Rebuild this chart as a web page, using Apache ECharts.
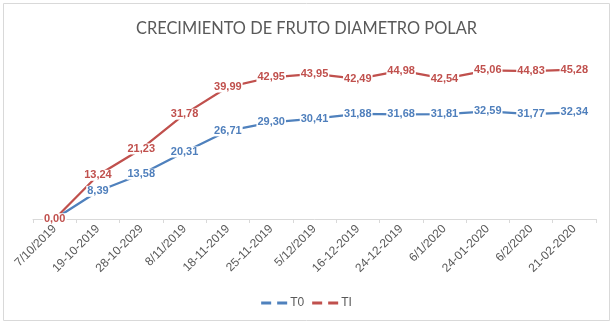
<!DOCTYPE html>
<html><head><meta charset="utf-8">
<script src="https://cdn.jsdelivr.net/npm/echarts@6/dist/echarts.min.js"></script>
<style>html,body{margin:0;padding:0;background:#fff}#c{width:613px;height:324px}</style>
</head><body><div id="c"></div>
<script>
const categories = ['7/10/2019','19-10-2019','28-10-2029','8/11/2019','18-11-2019','25-11-2019','5/12/2019','16-12-2019','24-12-2019','6/1/2020','24-01-2020','6/2/2020','21-02-2020'];
const t0Values = [0.00, 8.39, 13.58, 20.31, 26.71, 29.30, 30.41, 31.88, 31.68, 31.81, 32.59, 31.77, 32.34];
const tiValues = [0.00, 13.24, 21.23, 31.78, 39.99, 42.95, 43.95, 42.49, 44.98, 42.54, 45.06, 44.83, 45.28];
const titleText = 'CRECIMIENTO DE FRUTO DIAMETRO POLAR';

const chart = echarts.init(document.getElementById('c'), null, {renderer:'canvas'});
const fmt = p => p.value.toFixed(2).replace('.', ',');
const dashIcon = 'path://M0,0h10v3h-10z M16,0h10v3h-10z';
function mk(name, data, color, labelColor){
  return {
    name, type:'line', data, symbol:'circle', showSymbol:true, symbolSize:2,
    lineStyle:{color, width:2.25}, itemStyle:{color},
    label:{show:true, position:'inside', formatter:fmt, color:labelColor,
      backgroundColor:'#ffffff', padding:[0,1],
      fontFamily:'Liberation Sans, sans-serif', fontWeight:'bold', fontSize:11},
    labelLayout:{hideOverlap:false},
    animation:false
  };
}
chart.setOption({
  animation:false,
  title:{text:titleText, left:'center', top:16,
    textStyle:{fontFamily:'Lato, sans-serif', fontWeight:'normal', fontSize:16.4, color:'#595959'}},
  graphic:[{type:'rect', shape:{x:3.5,y:3.5,width:606,height:317}, style:{fill:'none', stroke:'#d9d9d9', lineWidth:1}, silent:true}],
  legend:{bottom:10, left:'center', itemWidth:26, itemHeight:3, itemGap:8,
    textStyle:{fontFamily:'Liberation Sans, sans-serif', fontSize:12, color:'#595959', padding:[0,0,0,-2]},
    data:[{name:'T0', icon:dashIcon},{name:'TI', icon:dashIcon}]},
  grid:{left:33, right:17, top:54, bottom:105, containLabel:false},
  xAxis:{type:'category', data:categories, boundaryGap:true,
    axisLine:{lineStyle:{color:'#d9d9d9', width:1}},
    axisTick:{show:true, length:4, lineStyle:{color:'#d9d9d9'}},
    axisLabel:{rotate:45, margin:8, interval:0, fontFamily:'Liberation Sans, sans-serif', fontSize:12, color:'#595959'}},
  yAxis:{type:'value', min:0, max:50, interval:10, show:false, splitLine:{show:false}},
  series:[
    mk('T0', t0Values, '#4f81bd', '#4f7fbc'),
    mk('TI', tiValues, '#c0504d', '#c0504d')
  ]
});
</script></body></html>
